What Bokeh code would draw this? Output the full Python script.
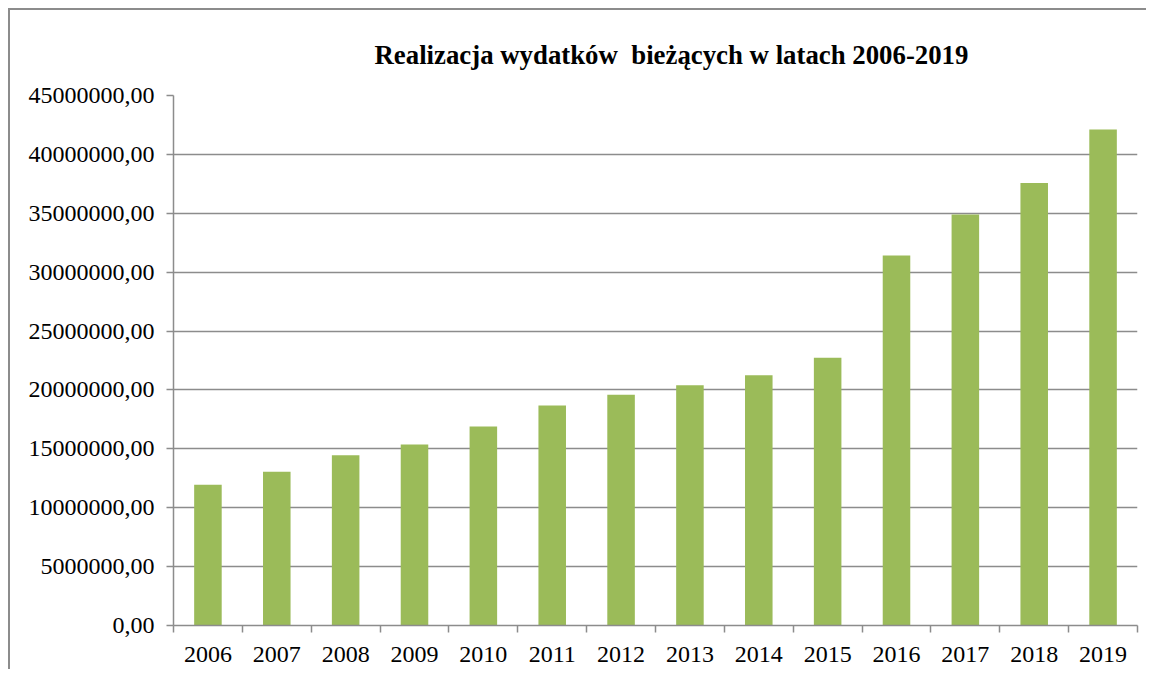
from bokeh.plotting import figure
from bokeh.models import Range1d, FixedTicker, CustomJSTickFormatter, ColumnDataSource
from bokeh.embed import file_html
from bokeh.resources import INLINE

# ---- data ----
years = ["2006", "2007", "2008", "2009", "2010", "2011", "2012",
         "2013", "2014", "2015", "2016", "2017", "2018", "2019"]
expenses = [11950000, 13050000, 14460000, 15360000, 16890000, 18670000, 19600000,
            20390000, 21240000, 22740000, 31410000, 34900000, 37570000, 42120000]
y_ticks = [0, 5000000, 10000000, 15000000, 20000000, 25000000,
           30000000, 35000000, 40000000, 45000000]
title_text = "Realizacja wydatków \u00a0bieżących w latach 2006-2019"

GRID = "#8c8c8c"
BAR = "#9bbb59"
FONT = "Liberation Serif"

n = len(years)
slot = [i + 0.5 for i in range(n)]          # category centres on a 0..n scale
bounds = [float(i) for i in range(n + 1)]   # category boundaries
src = ColumnDataSource(dict(slot=slot, year=years, value=expenses))

p = figure(x_range=Range1d(0, n), y_range=Range1d(0, 45000000),
           frame_width=964, frame_height=530,
           min_border_left=163, min_border_right=9, min_border_top=85, min_border_bottom=44,
           output_backend="svg", toolbar_location=None,
           background_fill_color="white", border_fill_color="white")
p.outline_line_color = None
p.margin = (8, 0, 0, 8)

p.vbar(x="slot", top="value", width=0.4, source=src, fill_color=BAR, line_color=None)

# title
p.title.text = title_text
p.title.align = "left"
p.title.offset = 201
p.title.standoff = 52
p.title.text_font = FONT
p.title.text_font_size = "26.8px"
p.title.text_font_style = "bold"
p.title.text_color = "black"

# y axis
ya = p.yaxis[0]
ya.ticker = FixedTicker(ticks=y_ticks, minor_ticks=[])
ya.formatter = CustomJSTickFormatter(code="return tick.toFixed(2).replace('.', ',');")
ya.axis_line_color = GRID
ya.axis_line_width = 1.5
ya.major_tick_line_color = GRID
ya.major_tick_line_width = 1.5
ya.major_tick_in = 0
ya.major_tick_out = 7
ya.minor_tick_line_color = None
ya.major_label_text_font = FONT
ya.major_label_text_font_size = "24px"
ya.major_label_text_color = "black"
ya.major_label_standoff = 12

# x axis: labels at category centres, ticks at category boundaries
xa = p.xaxis[0]
xa.ticker = FixedTicker(ticks=slot, minor_ticks=bounds)
xa.major_label_overrides = {c: y for c, y in zip(slot, years)}
xa.axis_line_color = GRID
xa.axis_line_width = 1.5
xa.major_tick_line_color = None
xa.major_tick_in = 0
xa.major_tick_out = 0
xa.minor_tick_line_color = GRID
xa.minor_tick_line_width = 1.5
xa.minor_tick_in = 0
xa.minor_tick_out = 7
xa.major_label_text_font = FONT
xa.major_label_text_font_size = "24px"
xa.major_label_text_color = "black"
xa.major_label_standoff = 14

p.xgrid.grid_line_color = None
p.ygrid.grid_line_color = GRID
p.ygrid.grid_line_width = 1.5

p.styles = {"border-top": "2px solid #8c8c8c", "border-left": "2px solid #8c8c8c"}

open("out.html", "w").write(file_html(p, INLINE))
